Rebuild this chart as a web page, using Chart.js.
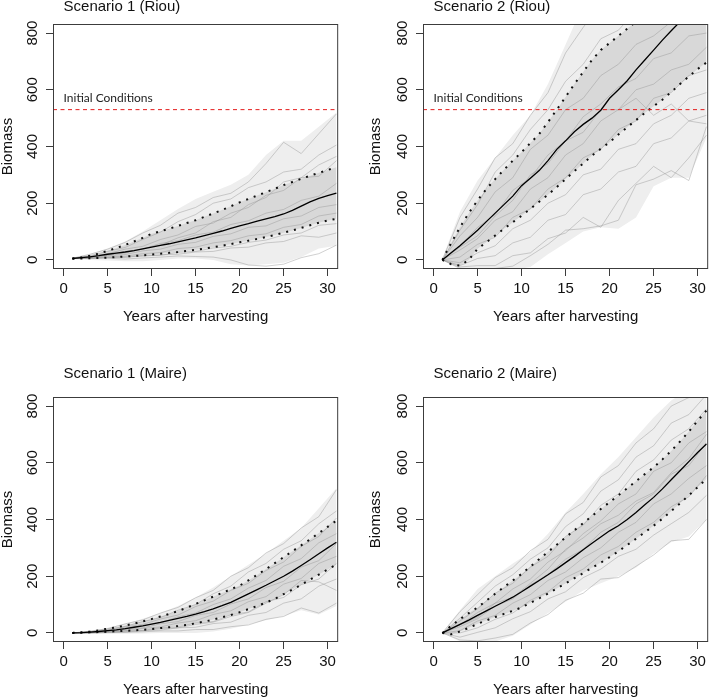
<!DOCTYPE html>
<html>
<head>
<meta charset="utf-8">
<script src="https://cdn.jsdelivr.net/npm/chart.js@4/dist/chart.umd.min.js"></script>
<style>
  html, body { margin: 0; padding: 0; background: #fff; overflow: hidden; }
  body { width: 710px; height: 697px; position: relative; }
  canvas { position: absolute; }
</style>
</head>
<body>
<canvas id="riou1" width="340" height="337" style="left:0px;top:-6px"></canvas>
<canvas id="riou2" width="342" height="337" style="left:368px;top:-6px"></canvas>
<canvas id="maire1" width="340" height="337" style="left:0px;top:367px"></canvas>
<canvas id="maire2" width="342" height="337" style="left:368px;top:367px"></canvas>
<script>
// axes
const xMin = -1.2, xMax = 31.2, yMin = -32, yMax = 832;
const xTicks = [0, 5, 10, 15, 20, 25, 30];
const yTicks = [0, 200, 400, 600, 800];
const years = [1,2,3,4,5,6,7,8,9,10,11,12,13,14,15,16,17,18,19,20,21,22,23,24,25,26,27,28,29,30,31];
const oddYears = [1,3,5,7,9,11,13,15,17,19,21,23,25,27,29,31];
const initialLevel = 530;

// Scenario 1 (Riou)
const riou1Mean  = [5,8,11,15,20,24,28,33,39,45,51,57,64,71,78,86,94,102,111,120,128,137,145,153,162,175,190,205,217,227,236];
const riou1Upper = [5,9,15,22,32,42,53,65,78,92,101,110,120,130,140,152,164,176,189,203,215,227,239,251,264,275,286,297,307,317,327];
const riou1Lower = [4,5,6,7,8,10,12,14,16,19,22,25,28,32,36,40,45,50,56,62,68,74,81,88,96,104,113,122,131,139,145];
const riou1EnvHigh = [8,20,40,65,100,140,180,215,240,265,300,370,420,420,470,520];
const riou1EnvLow  = [2,0,-2,-5,-5,0,5,5,0,-15,-20,-15,-10,10,40,50];
const riou1Runs = [
  [6,20,38,62,95,122,165,185,220,235,275,340,415,375,445,515],
  [5,15,30,44,72,98,135,160,200,215,255,275,310,320,370,405],
  [5,12,22,38,48,72,88,118,130,165,185,228,245,290,295,350],
  [5,10,18,30,38,58,68,88,98,125,138,165,178,210,225,270],
  [5,8,15,19,32,38,55,62,83,92,115,120,145,155,185,195],
  [5,7,11,13,22,26,40,45,60,68,85,92,115,125,155,165],
  [5,6,9,9,16,16,27,30,42,48,62,70,88,95,122,128],
  [5,5,6,3,7,10,14,12,10,0,-18,-22,-15,8,22,52],
  [5,6,8,10,13,18,20,28,30,42,45,60,65,85,80,95],
  [5,9,17,24,40,52,78,95,135,150,195,220,275,290,335,365]
];

// Scenario 2 (Riou)
const riou2Mean  = [0,25,50,77,105,135,165,195,225,262,288,315,350,390,420,452,478,500,528,570,600,632,670,705,740,775,808,840,870,900,930];
const riou2Upper = [0,60,115,165,210,250,285,318,350,380,412,444,486,530,575,620,663,705,740,765,790,815,840,870,900,930,960,990,1020,1050,1080];
const riou2Lower = [0,-15,-20,0,39,62,86,110,133,156,180,205,230,257,285,313,340,368,392,415,442,468,493,518,542,565,592,620,647,673,696];
const riou2EnvHigh = [5,170,280,360,440,510,620,760,900,1000,1000,1000,1000,1000,1000,1000];
const riou2EnvLow  = [0,-30,-35,-35,-35,-25,20,60,100,115,110,150,260,290,290,430];
const riou2Runs = [
  [0,150,250,360,410,510,590,730,820,900,950,1000,1000,1000,1000,1000],
  [0,105,195,310,370,460,530,630,690,780,810,880,900,950,1000,1000],
  [0,85,150,240,290,390,440,530,570,650,690,760,790,840,880,900],
  [0,50,115,160,245,290,370,420,505,550,610,640,710,730,790,800],
  [0,35,75,140,170,250,290,370,410,490,530,600,620,670,690,750],
  [0,10,55,80,150,180,250,290,360,390,460,490,570,590,650,670],
  [0,-10,25,50,110,140,200,230,300,320,390,410,480,510,570,590],
  [0,-20,5,15,60,80,140,160,230,250,310,330,410,430,490,510],
  [0,-25,-20,-20,15,25,75,95,150,115,210,270,330,290,360,440],
  [0,-30,-32,-30,-22,15,55,105,110,120,140,265,285,315,280,470],
  [0,45,85,155,210,300,340,420,450,530,530,570,510,550,490,480]
];

// Scenario 1 (Maire)
const maire1Mean  = [0,1,3,5,8,11,15,20,25,31,37,44,51,58,66,75,85,96,108,123,138,153,168,184,200,218,238,258,279,300,320];
const maire1Upper = [0,2,5,9,15,20,26,33,41,49,58,67,77,89,102,115,128,141,154,167,185,205,225,246,267,288,309,330,352,374,396];
const maire1Lower = [0,1,2,3,4,6,7,9,11,14,17,20,24,28,34,40,47,55,63,73,84,95,107,120,137,153,170,188,206,224,241];
const maire1EnvHigh = [1,6,18,32,50,70,95,125,160,200,240,280,325,370,440,510];
const maire1EnvLow  = [-2,-3,-3,-3,-2,0,0,0,5,15,30,45,60,80,65,95];
const maire1Runs = [
  [0,6,15,32,46,70,90,124,150,200,230,282,315,370,410,505],
  [0,4,13,23,40,54,80,100,138,165,215,245,295,325,385,430],
  [0,3,9,21,30,49,63,93,112,150,175,220,250,305,340,405],
  [0,2,8,14,27,35,57,70,100,120,158,185,235,262,318,350],
  [0,2,5,13,18,32,40,62,72,102,120,160,182,232,255,315],
  [0,1,4,8,16,21,35,43,65,78,110,128,172,192,245,270],
  [0,1,3,7,9,18,21,35,40,64,74,110,125,170,190,245],
  [0,0,2,3,8,10,18,20,33,38,62,72,105,120,165,190],
  [0,0,1,2,4,7,7,12,12,22,28,48,58,88,70,105],
  [0,1,3,6,8,15,18,30,38,58,72,105,135,185,180,150]
];

// Scenario 2 (Maire)
const maire2Mean  = [0,15,30,45,62,78,94,110,126,145,165,185,205,226,248,270,293,316,338,360,378,400,425,452,478,508,540,572,604,636,666];
const maire2Upper = [0,25,48,70,90,114,138,162,185,208,234,260,286,311,337,362,387,412,437,461,485,510,535,560,584,612,642,675,710,748,784];
const maire2Lower = [0,-5,5,18,32,44,56,67,78,90,106,122,139,157,175,193,211,230,248,267,288,310,332,355,378,403,430,457,485,514,543];
const maire2EnvHigh = [2,80,155,200,245,285,350,425,490,560,620,690,760,820,860,900];
const maire2EnvLow  = [0,-30,-30,-30,-10,30,70,110,150,175,200,230,280,320,340,400];
const maire2Runs = [
  [0,75,135,195,230,290,330,420,460,550,590,670,720,800,830,890],
  [0,52,108,165,205,260,300,375,420,500,540,620,660,740,770,840],
  [0,42,85,140,175,232,270,340,380,450,490,570,610,680,720,790],
  [0,28,72,105,155,190,250,290,350,395,455,490,570,600,670,710],
  [0,22,50,95,120,170,205,260,295,355,390,455,490,560,590,670],
  [0,8,42,62,105,135,185,215,265,300,355,390,455,490,545,590],
  [0,0,18,48,70,115,145,195,225,275,305,355,390,445,480,555],
  [0,-15,2,18,50,75,120,145,195,225,270,295,345,385,425,485],
  [0,-25,-28,-18,-5,35,65,115,140,190,195,235,275,325,330,400],
  [0,28,55,105,125,175,225,295,335,385,415,465,495,565,615,700]
];

Chart.defaults.font.family = '"Liberation Sans", Arial, Helvetica, sans-serif';
Chart.defaults.font.size = 15;
Chart.defaults.color = '#111';

const toPts = (xs, ys) => xs.map((x, i) => ({ x: x, y: ys[i] }));

// frame, panel title and the "Initial Conditions" note
const panelDecor = {
  id: 'panelDecor',
  afterDraw(chart, args, opts) {
    const { ctx, chartArea: a, scales: { x, y } } = chart;
    ctx.save();
    ctx.strokeStyle = '#3c3c3c';
    ctx.lineWidth = 1;
    ctx.strokeRect(a.left + 0.5, a.top + 0.5, a.right - a.left - 1, a.bottom - a.top - 1);
    ctx.fillStyle = '#111';
    ctx.textAlign = 'left';
    ctx.textBaseline = 'middle';
    ctx.font = '15px "Liberation Sans", Arial, sans-serif';
    ctx.fillText(opts.title, x.getPixelForValue(0), a.top - opts.titleGap);
    if (opts.initial) {
      ctx.font = '12px Lato, "Open Sans", sans-serif';
      ctx.fillStyle = '#222';
      ctx.fillText('Initial Conditions', x.getPixelForValue(0), y.getPixelForValue(initialLevel) - 11.5);
    }
    ctx.restore();
  }
};

function makePanel(id, title, titleGap, yAxisW, mean, upper, lower, envHigh, envLow, runs, showInitial) {
  const line = { pointRadius: 0, tension: 0, fill: false };
  const datasets = [
    Object.assign({}, line, { data: toPts(oddYears, envLow), borderWidth: 0, borderColor: 'rgba(0,0,0,0)', order: 20 }),
    Object.assign({}, line, { data: toPts(oddYears, envHigh), borderWidth: 0, borderColor: 'rgba(0,0,0,0)', fill: '-1', backgroundColor: '#eeeeee', order: 20 }),
    Object.assign({}, line, { data: toPts(years, lower), borderWidth: 0, borderColor: 'rgba(0,0,0,0)', order: 19 }),
    Object.assign({}, line, { data: toPts(years, upper), borderWidth: 0, borderColor: 'rgba(0,0,0,0)', fill: '-1', backgroundColor: '#d8d8d8', order: 19 })
  ];
  runs.forEach(r => {
    datasets.push(Object.assign({}, line, { data: toPts(oddYears, r), borderWidth: 1, borderColor: 'rgba(150,150,150,0.45)', order: 10 }));
  });
  datasets.push(Object.assign({}, line, { data: toPts(years, upper), borderWidth: 2, borderColor: '#111', borderDash: [2, 6], order: 3 }));
  datasets.push(Object.assign({}, line, { data: toPts(years, lower), borderWidth: 2, borderColor: '#111', borderDash: [2, 6], order: 3 }));
  datasets.push(Object.assign({}, line, { data: toPts(years, mean), borderWidth: 1.3, borderColor: '#000', order: 2 }));
  if (showInitial) {
    datasets.push(Object.assign({}, line, {
      data: [{ x: xMin, y: initialLevel }, { x: xMax, y: initialLevel }],
      borderWidth: 1, borderColor: 'rgb(228,28,28)', borderDash: [4, 3.5], order: 1
    }));
  }

  new Chart(document.getElementById(id), {
    type: 'line',
    data: { datasets: datasets },
    plugins: [panelDecor],
    options: {
      responsive: false,
      animation: false,
      events: [],
      layout: { padding: { top: 30, right: 1, bottom: 2, left: 0 } },
      plugins: {
        legend: { display: false },
        tooltip: { enabled: false },
        panelDecor: { title: title, titleGap: titleGap, initial: showInitial }
      },
      scales: {
        x: {
          type: 'linear', min: xMin, max: xMax,
          afterBuildTicks: s => { s.ticks = xTicks.map(v => ({ value: v })); },
          afterFit: s => { s.height = 60; },
          grid: { drawOnChartArea: false, drawTicks: true, tickLength: 7, color: '#3c3c3c', tickColor: '#3c3c3c' },
          border: { display: false },
          ticks: { maxRotation: 0, autoSkip: false, padding: 4, color: '#111' },
          title: { display: true, text: 'Years after harvesting', color: '#111', font: { size: 15, lineHeight: 1.2 }, padding: { top: 0, bottom: 3 } }
        },
        y: {
          type: 'linear', min: yMin, max: yMax,
          afterBuildTicks: s => { s.ticks = yTicks.map(v => ({ value: v })); },
          afterFit: s => { s.width = yAxisW; },
          grid: { drawOnChartArea: false, drawTicks: true, tickLength: 7, color: '#3c3c3c', tickColor: '#3c3c3c' },
          border: { display: false },
          ticks: { minRotation: 90, maxRotation: 90, crossAlign: 'center', padding: 1, color: '#111' },
          title: { display: true, text: 'Biomass', color: '#111', font: { size: 15, lineHeight: 1 }, padding: { top: 0, bottom: 0 } }
        }
      }
    }
  });
}

makePanel('riou1', 'Scenario 1 (Riou)', 17, 53, riou1Mean, riou1Upper, riou1Lower, riou1EnvHigh, riou1EnvLow, riou1Runs, true);
makePanel('riou2', 'Scenario 2 (Riou)', 17, 55, riou2Mean, riou2Upper, riou2Lower, riou2EnvHigh, riou2EnvLow, riou2Runs, true);
makePanel('maire1', 'Scenario 1 (Maire)', 23, 53, maire1Mean, maire1Upper, maire1Lower, maire1EnvHigh, maire1EnvLow, maire1Runs, false);
makePanel('maire2', 'Scenario 2 (Maire)', 23, 55, maire2Mean, maire2Upper, maire2Lower, maire2EnvHigh, maire2EnvLow, maire2Runs, false);
</script>
</body>
</html>
